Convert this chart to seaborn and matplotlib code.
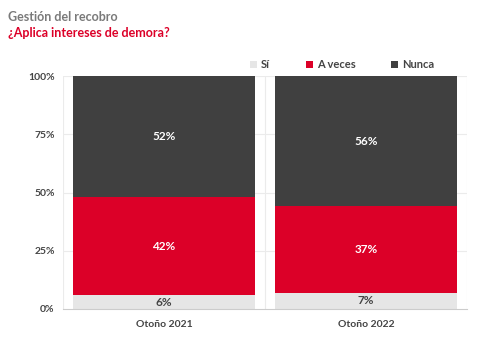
import matplotlib
matplotlib.use("Agg")
import matplotlib.pyplot as plt
from matplotlib.patches import Patch
import seaborn as sns
import pandas as pd

# Survey results (percent of respondents)
periods = ["Otoño 2021", "Otoño 2022"]
answers = ["Sí", "A veces", "Nunca"]
si = [6, 7]
a_veces = [42, 37]
nunca = [52, 56]
yticks = [0, 25, 50, 75, 100]
ytick_labels = ["0%", "25%", "50%", "75%", "100%"]

colors = {"Sí": "#e6e6e6", "A veces": "#dc0028", "Nunca": "#404040"}
text_colors = {"Sí": "#444444", "A veces": "white", "Nunca": "white"}

sns.set_theme(style="white")
plt.rcParams["font.family"] = ["Lato", "DejaVu Sans"]

df = pd.DataFrame({"periodo": periods, "Sí": si, "A veces": a_veces, "Nunca": nunca})
# cumulative tops for stacking
df["top_si"] = df["Sí"]
df["top_av"] = df["Sí"] + df["A veces"]
df["top_nu"] = df["top_av"] + df["Nunca"]

fig = plt.figure(figsize=(4.95, 3.47), dpi=100)
ax = fig.add_axes([63 / 495, 1 - 309 / 347, (467 - 63) / 495, (309 - 76) / 347])

# Draw tallest first so shorter stacks sit on top
for col, name in [("top_nu", "Nunca"), ("top_av", "A veces"), ("top_si", "Sí")]:
    sns.barplot(data=df, x="periodo", y=col, color=colors[name], width=0.905,
                saturation=1, ax=ax, linewidth=0, zorder=3)

# Segment labels
for i, row in df.iterrows():
    bottoms = {"Sí": 0, "A veces": row["top_si"], "Nunca": row["top_av"]}
    for name in answers:
        val = row[name]
        ax.text(i, bottoms[name] + val / 2, f"{val}%", ha="center", va="center",
                color=text_colors[name], fontsize=8.5, fontweight="bold", zorder=5)

ax.set_xlim(-0.5, 1.5)
ax.set_ylim(0, 100)
ax.set_yticks(yticks)
ax.set_yticklabels(ytick_labels)
ax.set_xlabel("")
ax.set_ylabel("")

# Light grid: horizontal at ticks, vertical at category boundaries
for y in yticks[1:]:
    ax.axhline(y, color="#ebebeb", lw=0.8, zorder=1)
for x in [-0.5, 0.5, 1.5]:
    ax.axvline(x, color="#ebebeb", lw=0.8, zorder=1)

for s in ["top", "right", "left"]:
    ax.spines[s].set_visible(False)
ax.spines["bottom"].set_color("#cccccc")
ax.spines["bottom"].set_linewidth(0.8)
ax.spines["bottom"].set_zorder(4)

ax.tick_params(axis="y", length=4, color="#dddddd", labelsize=7.5, labelcolor="#444444", pad=2)
ax.tick_params(axis="x", length=0, labelsize=7.5, labelcolor="#444444", pad=8)
for lbl in ax.get_xticklabels() + ax.get_yticklabels():
    lbl.set_fontweight("bold")

# Legend across the top
handles = [Patch(facecolor=colors[a], edgecolor="none") for a in answers]
leg = fig.legend(handles, answers, loc="center", bbox_to_anchor=(342 / 495, 1 - 65 / 347),
                 ncol=3, frameon=False, fontsize=8, handlelength=0.65, handleheight=0.65,
                 handletextpad=0.35, columnspacing=3.2)
for t in leg.get_texts():
    t.set_fontweight("bold")
    t.set_color("#444444")

fig.text(8 / 495, 1 - 17 / 347, "Gestión del recobro", fontsize=9, fontweight="bold",
         color="#7a7a7a", va="center", ha="left")
fig.text(8 / 495, 1 - 33 / 347, "¿Aplica intereses de demora?", fontsize=9, fontweight="bold",
         color="#dc0028", va="center", ha="left")

fig.savefig("out.png", dpi=100, facecolor="white")
